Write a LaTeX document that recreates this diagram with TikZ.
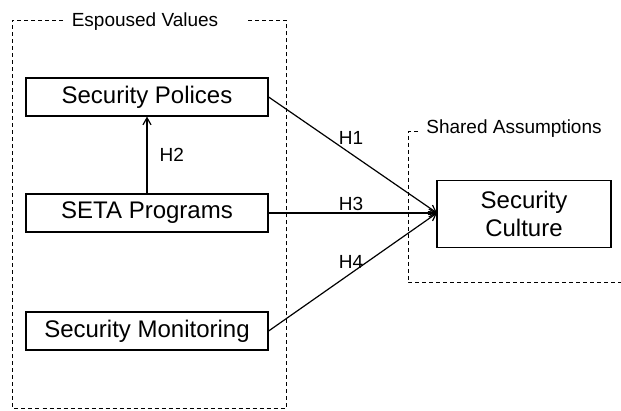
\documentclass[tikz,border=0pt]{standalone}
\usepackage{fontspec}
\setmainfont{Liberation Sans}
\usetikzlibrary{arrows.meta}
\begin{document}
\begin{tikzpicture}[x=1pt,y=-1pt,
  box/.style={draw,line width=1.2pt,minimum height=38pt,inner sep=0pt,font=\fontsize{24}{28}\selectfont},
  group/.style={draw,line width=1pt,dash pattern=on 4pt off 3pt},
  lab/.style={font=\fontsize{19}{22}\selectfont,inner sep=0pt},
  conn/.style={line width=1.2pt,-{Straight Barb[length=7pt,width=8pt]}}]
\useasboundingbox (0,0) rectangle (621,411);
% groups
\draw[group] (63,20.5) -- (12,20.5) -- (12,408) -- (286,408) -- (286,20.5) -- (247,20.5);
\node[lab] (ev) at (145,22) {Espoused Values};
\draw[group] (418,132) -- (408,132) -- (408,283) -- (621,283);
\node[lab] (sa) at (514,129) {Shared Assumptions};
% boxes
\node[box,minimum width=242pt] (sp) at (147,97) {Security Polices};
\node[box,minimum width=242pt] (seta) at (147,213) {SETA Programs};
\node[box,minimum width=242pt] (sm) at (147,331) {Security Monitoring};
\node[box,minimum width=174pt,minimum height=67pt,align=center,font=\fontsize{24}{28}\selectfont] (sc) at (524,214) {Security\\Culture};
\coordinate (tip) at (437,213);
% connectors
\draw[conn] (seta.north) -- (sp.south) node[lab,pos=0.5,right=12pt] (h2) {H2};
\draw[conn] (sp.east) -- (tip);
\draw[conn] (seta.east) -- (tip);
\draw[conn] (sm.east) -- (tip);
\node[lab] (h1) at (351,138) {H1};
\node[lab] (h3) at (351,204) {H3};
\node[lab] (h4) at (351,262) {H4};
\end{tikzpicture}
\end{document}
